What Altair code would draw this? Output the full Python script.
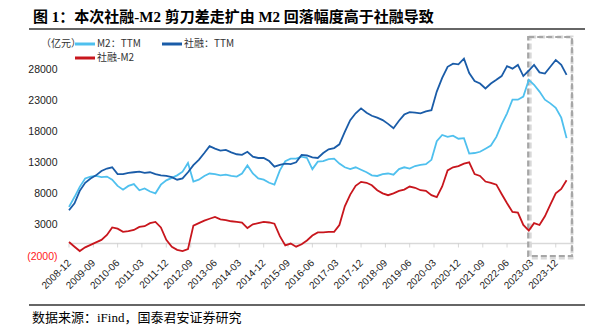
import altair as alt
import pandas as pd

# ---------------- data (every 2 months from 2008-12) ----------------
start_month = "2008-12-01"

shrong_ttm = [
    5380, 6500, 8500, 9800, 10500, 11000, 11700, 12100, 12300, 11200,
    11200, 11400, 11500, 11600, 11400, 11500, 11200, 11000, 10900, 10700,
    10300, 10500, 11500, 12650, 13500, 14600, 15700, 15300, 15000, 15100,
    14700, 14400, 14300, 14800, 14000, 13800, 13800, 13300, 12400, 12700,
    12900, 12800, 13100, 14300, 14200, 13900, 13800, 14600, 15200, 15400,
    16000, 18000, 19900, 21000, 21800, 21100, 20600, 20300, 19900, 19300,
    18600, 19800, 20800, 21200, 21100, 21000, 21300, 21500, 24500, 26700,
    28500, 29000, 28900, 29800, 27500, 26200, 25800, 25000, 25800, 26400,
    27000, 28600, 28200, 28800, 27000, 27900, 28800, 27600, 27400, 28500,
    29600, 28800, 27200,
]

m2_ttm = [
    5910, 7500, 9140, 10500, 10800, 10900, 10700, 10800, 10300, 9300,
    8700, 9300, 9600, 8600, 8900, 8400, 8100, 9500, 10200, 10600,
    11000, 11600, 13000, 10000, 10300, 10900, 11300, 11200, 11000, 11100,
    10900, 10800, 11300, 12600, 11300, 10500, 10300, 9800, 9500, 11800,
    13300, 13700, 13700, 14000, 13800, 12000, 13200, 13300, 13600, 13700,
    12900, 12300, 12000, 12300, 11900, 11500, 11000, 10900, 11200, 11300,
    11100, 12000, 12300, 12100, 12500, 12700, 12800, 13500, 16500, 17500,
    17200, 17400, 16900, 17000, 14500, 14600, 14800, 15300, 15800, 17200,
    19200, 21000, 23200, 23200, 23700, 26400, 25600, 24500, 23200, 22600,
    21900, 20300, 17000,
]

shrong_minus_m2 = [
    260, -500, -1200, -600, -200, 200, 600, 1400, 2600, 2400,
    1900, 2000, 2200, 2700, 2800, 3300, 3500, 2600, 600, -500,
    -1000, -1200, -900, 2900, 3300, 3700, 4000, 4300, 3900, 3800,
    3600, 3500, 3400, 2500, 3100, 3300, 3500, 3400, 3200, 1200,
    -300, 0, -500, -100, 500, 1300, 1800, 1800, 1900, 1900,
    3000, 6000, 7900, 9300, 9950, 9800, 9400, 8600, 8100, 7800,
    8100, 8500, 8700, 9200, 9000, 8600, 8500, 7800, 7500, 9200,
    11800, 12300, 12500, 12900, 13100, 11200, 10900, 10000, 9800, 9500,
    8000, 6500, 5100, 5000, 3000, 2100, 3300, 3000, 4400, 6300,
    8100, 8800, 10200,
]

series_names = ["M2：TTM", "社融：TTM", "社融-M2"]
series_colors = ["#4FC0EE", "#1A5CA8", "#C8161D"]
series_values = {"M2：TTM": m2_ttm, "社融：TTM": shrong_ttm, "社融-M2": shrong_minus_m2}

tick_labels = ["2008-12", "2009-09", "2010-06", "2011-03", "2011-12", "2012-09",
               "2013-06", "2014-03", "2014-12", "2015-09", "2016-06", "2017-03",
               "2017-12", "2018-09", "2019-06", "2020-03", "2020-12", "2021-09",
               "2022-06", "2023-03", "2023-12"]
y_ticks = [-2000, 3000, 8000, 13000, 18000, 23000, 28000]
y_domain = [-2000, 33300]
x_domain = [(2008, 12), (2024, 6)]
highlight = ["2023/01/25", "2024/06/01"]

title_text = "图 1：本次社融-M2 剪刀差走扩由 M2 回落幅度高于社融导致"
source_text = "数据来源：iFind，国泰君安证券研究"
unit_text = "（亿元）"

# ---------------- build tables ----------------
dates = pd.date_range(start_month, periods=len(shrong_ttm), freq="2MS").strftime("%Y/%m/%d")
rows = []
for name in series_names:
    for d, v in zip(dates, series_values[name]):
        rows.append({"date": d, "value": v, "series": name})
df = pd.DataFrame(rows)

tick_dt = [alt.DateTime(year=int(t[:4]), month=int(t[5:]), date=1) for t in tick_labels]
tick_dates = [t.replace("-", "/") + "/01" for t in tick_labels]

xscale = alt.Scale(domain=[alt.DateTime(year=y, month=m, date=1) for y, m in x_domain])
yscale = alt.Scale(domain=y_domain, nice=False, zero=False)

xaxis = alt.Axis(values=tick_dt, format="%Y-%m", labelAngle=-45, labelAlign="right",
                 labelBaseline="middle", labelPadding=5, labelFontSize=10,
                 labelFont="Liberation Sans", labelColor="#222222", labelOverlap=False,
                 domain=False, ticks=False, tickSize=0, grid=False, title=None)
yaxis = alt.Axis(values=y_ticks,
                 labelExpr="datum.value < 0 ? '(' + format(-datum.value, 'd') + ')' : format(datum.value, 'd')",
                 labelColor={"condition": {"test": "datum.value < 0", "value": "#FF2020"}, "value": "#222222"},
                 labelFontSize=10.5, labelFont="Liberation Sans", labelPadding=12,
                 domain=False, ticks=False, tickSize=0, grid=False, title=None)

one = pd.DataFrame({"a": [0]})

zero_rule = alt.Chart(pd.DataFrame({"v": [0]})).mark_rule(color="#D9D9D9", strokeWidth=1.5).encode(
    y=alt.Y("v:Q", scale=yscale, axis=yaxis))

ticks = alt.Chart(pd.DataFrame({"d": tick_dates, "v": [0] * len(tick_dates)})).mark_tick(
    orient="vertical", size=4, thickness=1, color="#C8C8C8", yOffset=2).encode(
    x=alt.X("d:T", scale=xscale, axis=xaxis), y=alt.Y("v:Q", scale=yscale, axis=yaxis))

box_df = pd.DataFrame({"x": [highlight[0]], "x2": [highlight[1]], "y": [y_domain[0]], "y2": [y_domain[1]]})
box_shadow = alt.Chart(box_df).mark_rect(fill="transparent", stroke="#D8D8D8", strokeWidth=3,
                                         strokeDash=[6, 3], xOffset=2, yOffset=2).encode(
    x=alt.X("x:T", scale=xscale, axis=xaxis), x2="x2:T",
    y=alt.Y("y:Q", scale=yscale, axis=yaxis), y2="y2:Q")
box = alt.Chart(box_df).mark_rect(fill="transparent", stroke="#A6A6A6", strokeWidth=2.2,
                                  strokeDash=[6, 3]).encode(
    x=alt.X("x:T", scale=xscale, axis=xaxis), x2="x2:T",
    y=alt.Y("y:Q", scale=yscale, axis=yaxis), y2="y2:Q")

lines = alt.Chart(df).mark_line(strokeWidth=1.8).encode(
    x=alt.X("date:T", scale=xscale, axis=xaxis),
    y=alt.Y("value:Q", scale=yscale, axis=yaxis),
    color=alt.Color("series:N", scale=alt.Scale(domain=series_names, range=series_colors), legend=None),
    detail="series:N",
)

# ---------------- legend (two columns, three entries) ----------------
legend_slots = [(6, 7), (93, 7), (6, 21)]  # (x, y) of each swatch's left end, relative to the plot
legend_layers = []
for name, color, (lx, ly) in zip(series_names, series_colors, legend_slots):
    legend_layers.append(alt.Chart(one).mark_rule(color=color, strokeWidth=3).encode(
        x=alt.value(lx), x2=alt.value(lx + 20), y=alt.value(ly)))
    legend_layers.append(alt.Chart(one).mark_text(align="left", baseline="middle", fontSize=10,
                                                  font="Noto Sans CJK SC", color="#333333").encode(
        text=alt.value(name), x=alt.value(lx + 22), y=alt.value(ly)))

title = alt.Chart(one).mark_text(align="left", baseline="middle", fontSize=15, fontWeight="bold",
                                 font="Liberation Serif, Noto Sans CJK SC", color="#000000").encode(
    text=alt.value(title_text), x=alt.value(-36), y=alt.value(-20))
title_line = alt.Chart(one).mark_rule(color="#333333", strokeWidth=1.3).encode(
    x=alt.value(-40), x2=alt.value(516), y=alt.value(-8))
foot_line = alt.Chart(one).mark_rule(color="#333333", strokeWidth=1.3).encode(
    x=alt.value(-40), x2=alt.value(516), y=alt.value(268))
foot = alt.Chart(one).mark_text(align="left", baseline="middle", fontSize=13,
                                font="Liberation Serif, Noto Sans CJK SC", color="#000000").encode(
    text=alt.value(source_text), x=alt.value(-37), y=alt.value(281))
unit = alt.Chart(one).mark_text(align="left", baseline="middle", fontSize=10,
                                font="Noto Sans CJK SC", color="#333333").encode(
    text=alt.value(unit_text), x=alt.value(-28), y=alt.value(7))

chart = alt.layer(zero_rule, ticks, box_shadow, box, lines, *legend_layers,
                  title, title_line, foot_line, foot, unit).properties(
    width=503, height=219,
    padding={"left": 69, "top": 37, "right": 23, "bottom": 78},
    autosize="none",
).configure_view(stroke=None)

chart.save("out.html", embed_options={"renderer": "svg", "actions": False})
